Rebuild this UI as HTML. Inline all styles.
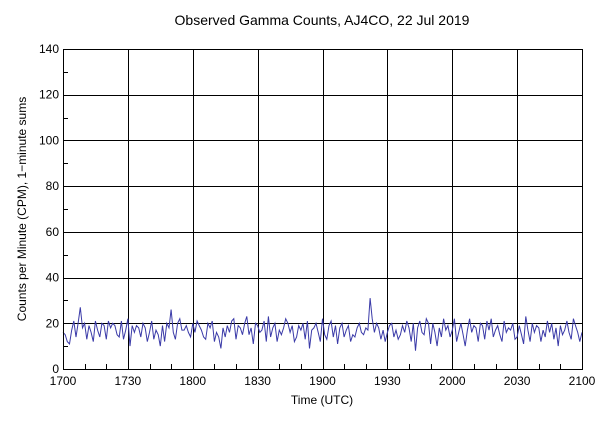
<!DOCTYPE html>
<html><head><meta charset="utf-8"><style>
body{margin:0;background:#fff;}
svg{display:block;font-family:"Liberation Sans",sans-serif;}
</style></head><body>
<svg id="c" width="600" height="428"></svg>
<script>
const xTickLabels=["1700","1730","1800","1830","1900","1930","2000","2030","2100"];
const yTickLabels=[0,20,40,60,80,100,120,140];
const counts=[16,15,12,11,17,21,14,20,27,18,20,13,19,16,12,21,17,14,20,19,
13,21,18,20,19,15,14,21,13,17,22,10,19,16,19,18,14,20,18,12,
16,21,13,17,15,10,19,12,20,18,26,16,13,20,22,17,17,19,16,14,
20,16,21,19,17,14,13,20,18,21,12,16,14,9,18,14,19,16,21,22,
13,19,18,15,20,23,15,18,11,20,19,16,17,21,12,23,14,18,20,12,
17,15,18,22,20,16,19,12,14,19,17,20,13,21,9,17,18,20,16,12,
22,15,13,19,21,14,19,11,18,20,14,17,19,12,15,14,18,20,16,15,
18,17,31,22,16,20,18,13,17,12,16,19,20,14,17,13,15,19,16,21,
18,12,20,8,18,21,16,15,22,20,11,20,16,10,18,14,22,17,19,14,
17,22,12,16,20,15,10,17,22,16,19,18,12,20,19,13,21,17,22,14,
17,19,15,12,21,16,18,17,20,13,14,19,15,11,23,17,12,20,16,19,
18,12,17,14,21,16,20,13,18,10,19,15,17,21,16,13,22,19,16,12,
16];
const svg=document.getElementById('c');
const NS='http://www.w3.org/2000/svg';
const L=63,R=582,T=49,B=369;
const xs=i=>L+(R-L)*i/240, ys=v=>B-(B-T)*v/140;
function mk(t,a,p){const e=document.createElementNS(NS,t);for(const k in a)e.setAttribute(k,a[k]);(p||svg).appendChild(e);return e;}
const title=mk('text',{x:322,y:25,'text-anchor':'middle','font-size':14});
title.textContent='Observed Gamma Counts, AJ4CO, 22 Jul 2019';


const grid=mk('g',{stroke:'#000','stroke-width':1});


for(let i=1;i<8;i++){const x=Math.round(xs(i*30))+0.5;mk('line',{x1:x,x2:x,y1:T,y2:B},grid);}
for(let v=20;v<140;v+=20){const y=Math.round(ys(v))+0.5;mk('line',{x1:L,x2:R,y1:y,y2:y},grid);}
for(let m=0;m<=240;m+=10){const x=Math.round(xs(m))+0.5;mk('line',{x1:x,x2:x,y1:B,y2:B-(m%30?5:8)},grid);}
for(let v=0;v<=140;v+=10){const y=Math.round(ys(v))+0.5;mk('line',{x1:L,x2:L+(v%20?5:8),y1:y,y2:y},grid);}
const pts=counts.map((v,i)=>xs(i).toFixed(1)+','+ys(v).toFixed(1)).join(' ');
const line=mk('polyline',{points:pts,fill:'none',stroke:'#3a3aa8','stroke-width':1});


const frame=mk('rect',{x:L+0.5,y:T+0.5,width:R-L,height:B-T,fill:'none',stroke:'#000'});


xTickLabels.forEach((t,i)=>{const e=mk('text',{x:xs(i*30),y:B+16,'text-anchor':'middle','font-size':12});e.textContent=t;

});
yTickLabels.forEach(v=>{const e=mk('text',{x:L-4,y:ys(v)+4,'text-anchor':'end','font-size':12});e.textContent=v;

});
const xt=mk('text',{x:322,y:404,'text-anchor':'middle','font-size':12});xt.textContent='Time (UTC)';


const yt=mk('text',{x:0,y:0,'text-anchor':'middle','font-size':12,transform:'translate(26,209) rotate(-90)'});yt.textContent='Counts per Minute (CPM), 1\u2212minute sums';


</script>
</body></html>
